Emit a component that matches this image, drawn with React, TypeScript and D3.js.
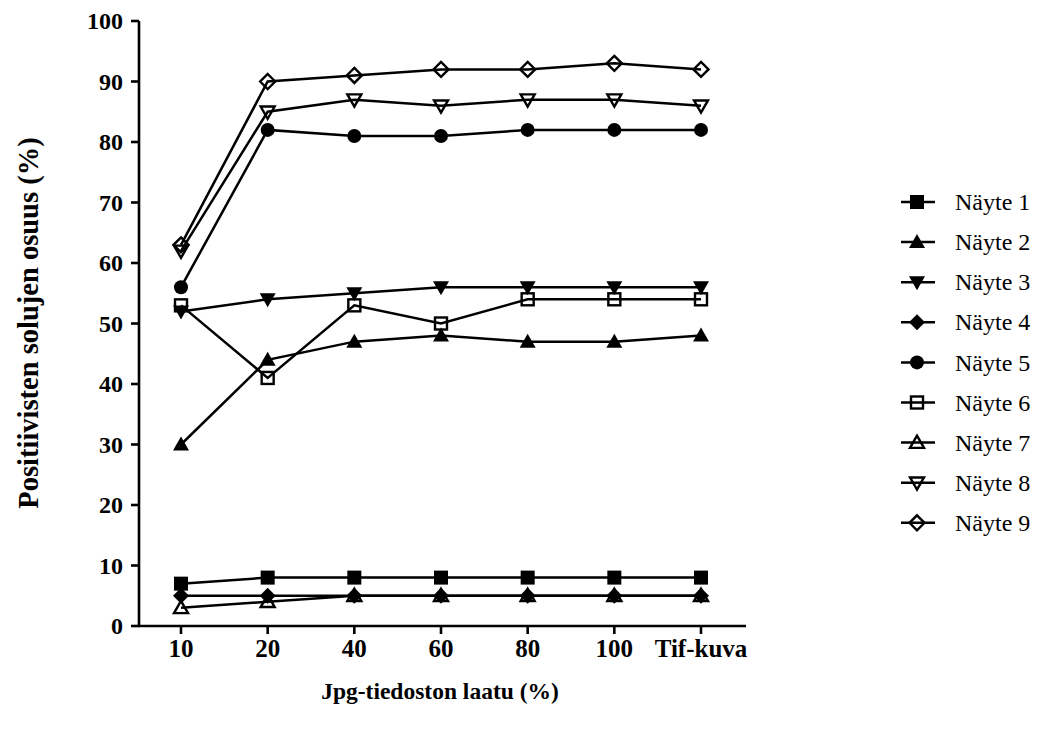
import React from 'react'
import * as d3 from 'd3'

const categories = ['10', '20', '40', '60', '80', '100', 'Tif-kuva']
const seriesNames = ['Näyte 1', 'Näyte 2', 'Näyte 3', 'Näyte 4', 'Näyte 5', 'Näyte 6', 'Näyte 7', 'Näyte 8', 'Näyte 9']
const nayte1 = [7, 8, 8, 8, 8, 8, 8]
const nayte2 = [30, 44, 47, 48, 47, 47, 48]
const nayte3 = [52, 54, 55, 56, 56, 56, 56]
const nayte4 = [5, 5, 5, 5, 5, 5, 5]
const nayte5 = [56, 82, 81, 81, 82, 82, 82]
const nayte6 = [53, 41, 53, 50, 54, 54, 54]
const nayte7 = [3, 4, 5, 5, 5, 5, 5]
const nayte8 = [62, 85, 87, 86, 87, 87, 86]
const nayte9 = [63, 90, 91, 92, 92, 93, 92]
const yTicks = [0, 10, 20, 30, 40, 50, 60, 70, 80, 90, 100]

const allSeries = [nayte1, nayte2, nayte3, nayte4, nayte5, nayte6, nayte7, nayte8, nayte9]
// marker shape + filled
const markers: [string, boolean][] = [
  ['square', true], ['up', true], ['down', true], ['diamond', true], ['circle', true],
  ['square', false], ['up', false], ['down', false], ['diamond', false],
]

function Marker({ x, y, shape, filled }: { x: number; y: number; shape: string; filled: boolean }) {
  const fill = filled ? '#000' : 'none'
  const sw = filled ? 0 : 2.4
  const s = filled ? 7 : 6
  if (shape === 'square') return <rect x={x - s} y={y - s} width={s * 2} height={s * 2} fill={fill} stroke="#000" strokeWidth={sw} />
  if (shape === 'circle') return <circle cx={x} cy={y} r={7} fill={fill} />
  if (shape === 'diamond') {
    const r = filled ? 8 : 7.5
    return <path d={`M${x},${y - r}L${x + r},${y}L${x},${y + r}L${x - r},${y}Z`} fill={fill} stroke="#000" strokeWidth={sw} />
  }
  const h = filled ? 8 : 7
  const w = filled ? 8 : 7
  if (shape === 'up') return <path d={`M${x},${y - h}L${x + w},${y + h * 0.75}L${x - w},${y + h * 0.75}Z`} fill={fill} stroke="#000" strokeWidth={sw} />
  return <path d={`M${x},${y + h}L${x + w},${y - h * 0.75}L${x - w},${y - h * 0.75}Z`} fill={fill} stroke="#000" strokeWidth={sw} />
}

export default function App() {
  const W = 1037, H = 736
  const left = 139, bottom = 626, top = 21, right = 746
  const x = d3.scalePoint<string>().domain(categories).range([181, 701])
  const y = d3.scaleLinear().domain([0, 100]).range([bottom, top])
  const line = d3.line<number>().x((d, i) => x(categories[i])!).y(d => y(d))
  const font = '"Liberation Serif", serif'
  const ts = { fontFamily: font }

  return (
    <svg width={W} height={H} style={{ position: 'absolute', left: 0, top: 0, background: '#fff', fontFamily: font }}>
      {/* axes */}
      <line x1={left} x2={left} y1={top} y2={bottom} stroke="#000" strokeWidth={2.6} />
      <line x1={left - 1} x2={right} y1={bottom} y2={bottom} stroke="#000" strokeWidth={2.6} />
      {yTicks.map(t => (
        <g key={t}>
          <line x1={left - 8} x2={left} y1={y(t)} y2={y(t)} stroke="#000" strokeWidth={2.6} />
          <text style={ts} x={left - 16} y={y(t)} dy="0.34em" textAnchor="end" fontSize={24} fontWeight="bold">{t}</text>
        </g>
      ))}
      {categories.map(c => (
        <g key={c}>
          <line x1={x(c)} x2={x(c)} y1={bottom} y2={bottom + 8} stroke="#000" strokeWidth={2.6} />
          <text style={ts} x={x(c)} y={657} textAnchor="middle" fontSize={25} fontWeight="bold">{c}</text>
        </g>
      ))}
      <text style={ts} x={440} y={699} textAnchor="middle" fontSize={23.5} fontWeight="bold">Jpg-tiedoston laatu (%)</text>
      <text style={ts} transform={`translate(38,323) rotate(-90)`} textAnchor="middle" fontSize={28.5} fontWeight="bold">Positiivisten solujen osuus (%)</text>

      {/* series */}
      {allSeries.map((s, i) => (
        <g key={i}>
          <path d={line(s)!} fill="none" stroke="#000" strokeWidth={2.5} />
          {s.map((v, j) => (
            <Marker key={j} x={x(categories[j])!} y={y(v)} shape={markers[i][0]} filled={markers[i][1]} />
          ))}
        </g>
      ))}

      {/* legend */}
      {seriesNames.map((n, i) => {
        const ly = 202 + i * 40.1
        return (
          <g key={n}>
            <line x1={901} x2={935} y1={ly} y2={ly} stroke="#000" strokeWidth={2.5} />
            <Marker x={917} y={ly} shape={markers[i][0]} filled={markers[i][1]} />
            <text style={ts} x={955} y={ly} dy="0.34em" fontSize={24}>{n}</text>
          </g>
        )
      })}
    </svg>
  )
}
